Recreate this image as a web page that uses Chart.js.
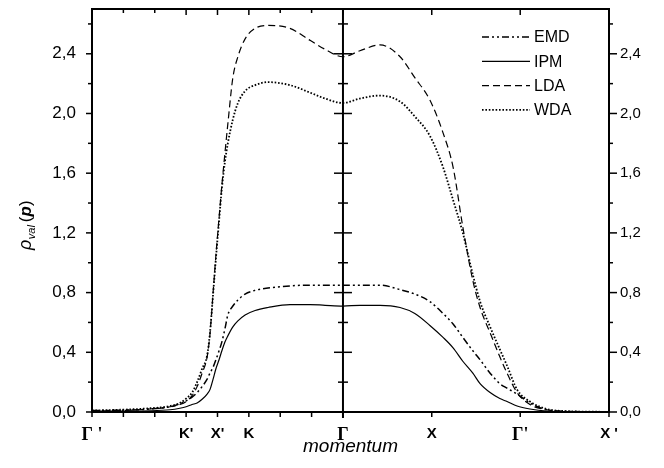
<!DOCTYPE html>
<html>
<head>
<meta charset="utf-8">
<script src="https://cdn.jsdelivr.net/npm/chart.js@4.4.0/dist/chart.umd.min.js"></script>
<style>
  html, body { margin: 0; padding: 0; background: #fff; }
</style>
</head>
<body>
<canvas id="chart" width="664" height="468"></canvas>
<script>
// momentum positions (one unit = spacing of the small ticks on the left half)
const momentum = [0, 0.89, 1.85, 2.49, 2.80, 3.00, 3.19, 3.35, 3.51, 3.67, 3.76, 3.86, 3.95, 4.05, 4.14, 4.24, 4.33, 4.49, 4.65, 4.88, 5.20, 5.61, 6.31, 6.95, 7.43,
                  8.00, 8.54, 9.18, 9.82, 10.29, 10.77, 11.19, 11.51, 11.82, 12.14, 12.37, 12.69, 13.00, 13.23, 13.55, 13.96, 14.50, 15.24, 16.48];

const emd = [0.01, 0.012, 0.02, 0.035, 0.055, 0.075, 0.10, 0.13, 0.17, 0.22, 0.26, 0.30, 0.35, 0.41, 0.47, 0.56, 0.65, 0.71, 0.75, 0.79, 0.815, 0.83, 0.845, 0.85, 0.85,
             0.85, 0.85, 0.85, 0.82, 0.79, 0.74, 0.66, 0.59, 0.50, 0.41, 0.35, 0.26, 0.19, 0.16, 0.12, 0.06, 0.015, 0.004, 0.001];
const ipm = [0.005, 0.006, 0.008, 0.015, 0.025, 0.035, 0.05, 0.06, 0.085, 0.12, 0.15, 0.22, 0.29, 0.35, 0.41, 0.47, 0.51, 0.57, 0.61, 0.65, 0.68, 0.70, 0.72, 0.72, 0.715,
             0.71, 0.715, 0.715, 0.70, 0.66, 0.58, 0.50, 0.43, 0.34, 0.26, 0.19, 0.13, 0.09, 0.07, 0.04, 0.02, 0.006, 0.002, 0.001];
const lda = [0.005, 0.01, 0.02, 0.035, 0.05, 0.07, 0.11, 0.17, 0.26, 0.37, 0.52, 0.80, 1.05, 1.30, 1.52, 1.74, 1.93, 2.24, 2.38, 2.50, 2.57, 2.59, 2.57, 2.49, 2.43,
             2.38, 2.42, 2.46, 2.38, 2.24, 2.09, 1.87, 1.64, 1.24, 0.88, 0.70, 0.53, 0.37, 0.26, 0.13, 0.05, 0.015, 0.003, 0.001];
const wda = [0.01, 0.015, 0.025, 0.04, 0.06, 0.09, 0.13, 0.20, 0.29, 0.38, 0.53, 0.79, 1.03, 1.28, 1.50, 1.68, 1.80, 1.96, 2.07, 2.15, 2.19, 2.21, 2.19, 2.14, 2.10,
             2.07, 2.10, 2.12, 2.08, 1.98, 1.85, 1.64, 1.42, 1.20, 0.92, 0.74, 0.57, 0.42, 0.31, 0.15, 0.07, 0.02, 0.005, 0.001];

const xTickPos = [0, 1, 2, 3, 4, 5, 6, 7, 8, 10.83, 13.65, 16.48];
const xTickLabels = ["Γ '", "", "", "K'", "X'", "K", "", "", "Γ", "X", "Γ'", "X '"];
const yTicks = [0, 0.2, 0.4, 0.6, 0.8, 1.0, 1.2, 1.4, 1.6, 1.8, 2.0, 2.2, 2.4, 2.6];
const names = ["EMD", "IPM", "LDA", "WDA"];

const styles = [
  { borderWidth: 1.5, borderDash: [7, 3, 2, 3, 2, 3] },
  { borderWidth: 1.2, borderDash: [] },
  { borderWidth: 1.2, borderDash: [7, 4] },
  { borderWidth: 1.8, borderDash: [1.6, 1.8] }
];

const series = [emd, ipm, lda, wda];
const datasets = series.map((vals, k) => ({
  label: names[k],
  data: momentum.map((x, i) => ({ x: x, y: vals[i] })),
  borderColor: '#000',
  borderWidth: styles[k].borderWidth,
  borderDash: styles[k].borderDash,
  pointRadius: 0,
  fill: false,
  cubicInterpolationMode: 'monotone'
}));

const yLabel = v => (Math.round(v * 10) % 4 === 0 ? v.toFixed(1).replace('.', ',') : '');

function line(ctx, x1, y1, x2, y2) {
  ctx.beginPath();
  ctx.moveTo(x1, y1);
  ctx.lineTo(x2, y2);
  ctx.stroke();
}

const decor = {
  id: 'decor',
  afterDatasetsDraw(chart) {
    const ctx = chart.ctx;
    const { left, right, top, bottom } = chart.chartArea;
    const xs = chart.scales.x, ys = chart.scales.y;
    const mid = xs.getPixelForValue(8);
    ctx.save();
    ctx.strokeStyle = '#000';
    ctx.setLineDash([]);
    ctx.lineWidth = 1.5;
    xTickPos.forEach((v, i) => {
      const px = xs.getPixelForValue(v);
      line(ctx, px, bottom, px, bottom + 5);
      line(ctx, px, top, px, top + (xTickLabels[i] ? 6 : 4));
    });
    yTicks.forEach(v => {
      const py = ys.getPixelForValue(v);
      const major = Math.round(v * 10) % 4 === 0;
      line(ctx, left - (major ? 6 : 4), py, left, py);
      line(ctx, right, py, right + (major ? 8 : 4), py);
      line(ctx, mid - (major ? 9 : 5), py, mid + (major ? 9 : 5), py);
    });
    ctx.lineWidth = 2;
    line(ctx, mid, top, mid, bottom + 6);
    ctx.strokeRect(left, top, right - left, bottom - top);

    // legend
    ctx.font = '16px "Liberation Sans"';
    ctx.fillStyle = '#000';
    ctx.textBaseline = 'middle';
    chart.data.datasets.forEach((ds, k) => {
      const y = 37 + k * 24.3;
      ctx.lineWidth = ds.borderWidth;
      ctx.setLineDash(ds.borderDash);
      line(ctx, 482, y, 530, y);
      ctx.fillText(ds.label, 534, y + 1);
    });
    ctx.setLineDash([]);

    // y title: rho_val (p)
    ctx.translate(31, 250);
    ctx.rotate(-Math.PI / 2);
    ctx.textBaseline = 'alphabetic';
    ctx.textAlign = 'left';
    let x = 0;
    const put = (txt, font, dy, gap) => {
      ctx.font = font;
      ctx.fillText(txt, x, dy);
      x += ctx.measureText(txt).width + gap;
    };
    put('ρ', 'italic 18px "Liberation Sans"', 0, 0.5);
    put('val', 'italic 11px "Liberation Sans"', 4, 3);
    put('(', '17px "Liberation Sans"', 0, 0);
    put('p', 'italic bold 17px "Liberation Sans"', 0, 0);
    put(')', '17px "Liberation Sans"', 0, 0);
    ctx.restore();
  }
};

const noPad = s => { s.paddingTop = 0; s.paddingBottom = 0; s.paddingLeft = 0; s.paddingRight = 0; };

new Chart(document.getElementById('chart'), {
  type: 'line',
  data: { datasets: datasets },
  options: {
    responsive: false,
    animation: false,
    layout: { padding: { top: 9, left: 0, right: 0, bottom: 0 } },
    plugins: { legend: { display: false }, tooltip: { enabled: false } },
    scales: {
      x: {
        type: 'linear', min: 0, max: 16.48, position: 'bottom',
        afterBuildTicks: s => { s.ticks = xTickPos.map(v => ({ value: v })); },
        afterFit: s => { s.height = 56; noPad(s); },
        grid: { display: false, drawTicks: false },
        border: { display: false },
        ticks: {
          autoSkip: false, maxRotation: 0, minRotation: 0, padding: 13, color: '#000',
          callback: (v, i) => xTickLabels[i],
          font: c => (xTickLabels[c.index] || '').startsWith('Γ')
            ? { family: '"Liberation Serif"', size: 18, weight: 'bold' }
            : { family: '"Liberation Sans"', size: 15, weight: 'bold' }
        },
        title: {
          display: true, text: 'momentum', color: '#000',
          font: { family: '"Liberation Sans"', size: 19, style: 'italic' },
          padding: { top: 0, bottom: 10 }
        }
      },
      y: {
        min: 0, max: 2.7, position: 'left',
        afterBuildTicks: s => { s.ticks = yTicks.map(v => ({ value: v })); },
        afterFit: s => { s.width = 92; noPad(s); },
        grid: { display: false, drawTicks: false },
        border: { display: false },
        ticks: { padding: 16, color: '#000', callback: yLabel, font: { family: '"Liberation Sans"', size: 17 } }
      },
      y2: {
        min: 0, max: 2.7, position: 'right',
        afterBuildTicks: s => { s.ticks = yTicks.map(v => ({ value: v })); },
        afterFit: s => { s.width = 55; noPad(s); },
        grid: { display: false, drawTicks: false },
        border: { display: false },
        ticks: { padding: 11, color: '#000', callback: yLabel, font: { family: '"Liberation Sans"', size: 15 } }
      }
    }
  },
  plugins: [decor]
});
</script>
</body>
</html>
